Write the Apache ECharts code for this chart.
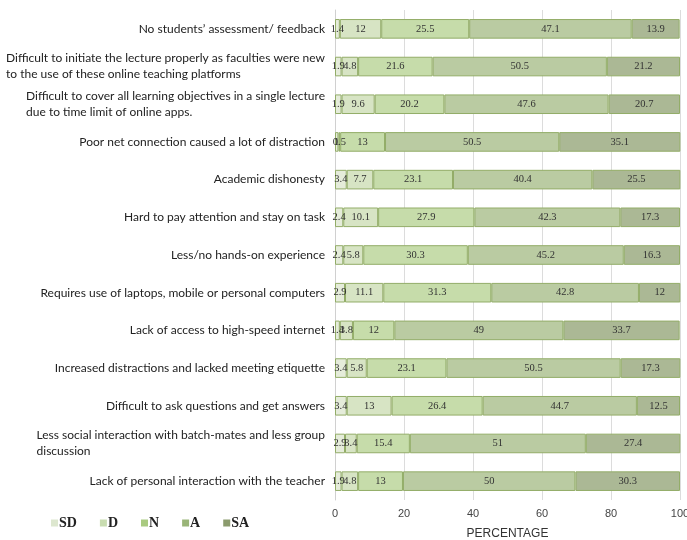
<!DOCTYPE html>
<html>
<head>
<meta charset="utf-8">
<script src="https://cdn.jsdelivr.net/npm/echarts@6/dist/echarts.min.js"></script>
<style>
  html, body { margin: 0; padding: 0; background: #fff; }
  #chart { width: 687px; height: 540px; }
</style>
</head>
<body>
<div id="chart"></div>
<script>
// questions, top to bottom
const questions = [
  'No students\u2019 assessment/ feedback',
  'Difficult to initiate the lecture properly as faculties were new\nto the use of these online teaching platforms',
  'Difficult to cover all learning objectives in a single lecture\ndue to time limit of online apps.',
  'Poor net connection caused a lot of distraction',
  'Academic dishonesty',
  'Hard to pay attention and stay on task',
  'Less/no hands-on experience',
  'Requires use of laptops, mobile or personal computers',
  'Lack of access to high-speed internet',
  'Increased distractions and lacked meeting etiquette',
  'Difficult to ask questions and get answers',
  'Less social interaction with batch-mates and less group\ndiscussion',
  'Lack of personal interaction with the teacher'
]
const sd = [1.4, 1.9, 1.9, 1, 3.4, 2.4, 2.4, 2.9, 1.4, 3.4, 3.4, 2.9, 1.9]
const d  = [12, 4.8, 9.6, 0.5, 7.7, 10.1, 5.8, 11.1, 3.8, 5.8, 13, 3.4, 4.8]
const n  = [25.5, 21.6, 20.2, 13, 23.1, 27.9, 30.3, 31.3, 12, 23.1, 26.4, 15.4, 13]
const a  = [47.1, 50.5, 47.6, 50.5, 40.4, 42.3, 45.2, 42.8, 49, 50.5, 44.7, 51, 50]
const sa = [13.9, 21.2, 20.7, 35.1, 25.5, 17.3, 16.3, 12, 33.7, 17.3, 12.5, 27.4, 30.3]
const xTicks = [0, 20, 40, 60, 80, 100]

const names = ['SD', 'D', 'N', 'A', 'SA']
const values = [sd, d, n, a, sa]
const fills = ['#e5ecda', '#d7e4c4', '#c6dcaa', '#bacba2', '#abb895']
const swatches = ['#dde7cf', '#c9ddb1', '#a9ca80', '#99b477', '#8b9b6d']

let chart = echarts.init(document.getElementById('chart'))

let series = names.map((name, i) => ({
  name,
  type: 'bar',
  stack: 'total',
  barWidth: '52%',
  data: values[i],
  itemStyle: {
    color: fills[i],
    borderColor: '#93ad68',
    borderWidth: 1
  },
  label: {
    show: true,
    position: 'inside',
    color: '#333',
    fontFamily: 'Liberation Serif',
    fontSize: 10.5
  }
}))

chart.setOption({
  animation: false,
  grid: {
    left: 335,
    right: 7,
    top: 10,
    bottom: 40,
    containLabel: false,
    outerBoundsMode: 'none'
  },
  legend: {
    left: 46,
    top: 511,
    itemWidth: 7,
    itemHeight: 7,
    itemGap: 23,
    icon: 'rect',
    itemStyle: { borderWidth: 0 },
    textStyle: {
      padding: [0, 0, 0, -4],
      fontFamily: 'Liberation Serif',
      fontWeight: 'bold',
      fontSize: 14,
      color: '#222'
    },
    data: names.map((name, i) => ({ name, itemStyle: { color: swatches[i], borderWidth: 0 } }))
  },
  xAxis: {
    type: 'value',
    min: 0,
    max: 100,
    interval: 20,
    name: 'PERCENTAGE',
    nameLocation: 'middle',
    nameGap: 28,
    nameTextStyle: {
      fontFamily: 'Liberation Sans Narrow, Liberation Sans',
      fontSize: 12,
      color: '#333'
    },
    axisLine: { show: false },
    axisTick: { show: false },
    axisLabel: {
      color: '#444',
      fontFamily: 'Liberation Sans Narrow, Liberation Sans',
      fontSize: 11,
      margin: 8,
      formatter: v => xTicks.includes(v) ? String(v) : ''
    },
    splitLine: { lineStyle: { color: '#dcdcdc', width: 1 } }
  },
  yAxis: {
    type: 'category',
    inverse: true,
    data: questions,
    name: 'QUESTIONS',
    nameLocation: 'middle',
    nameRotate: 90,
    nameGap: 312,
    nameTextStyle: {
      fontFamily: 'Lato',
      fontSize: 12,
      color: '#333',
      letterSpacing: 1
    },
    axisLine: { show: true, lineStyle: { color: '#d0d0d0' } },
    axisTick: { show: false },
    axisLabel: {
      margin: 10,
      color: '#222',
      fontFamily: 'Lato',
      fontSize: 12,
      lineHeight: 16,
      formatter: v => '{l|' + v + '}',
      rich: {
        l: {
          align: 'left',
          fontFamily: 'Lato',
          fontSize: 12,
          lineHeight: 16,
          color: '#222'
        }
      }
    }
  },
  series
})
</script>
</body>
</html>
